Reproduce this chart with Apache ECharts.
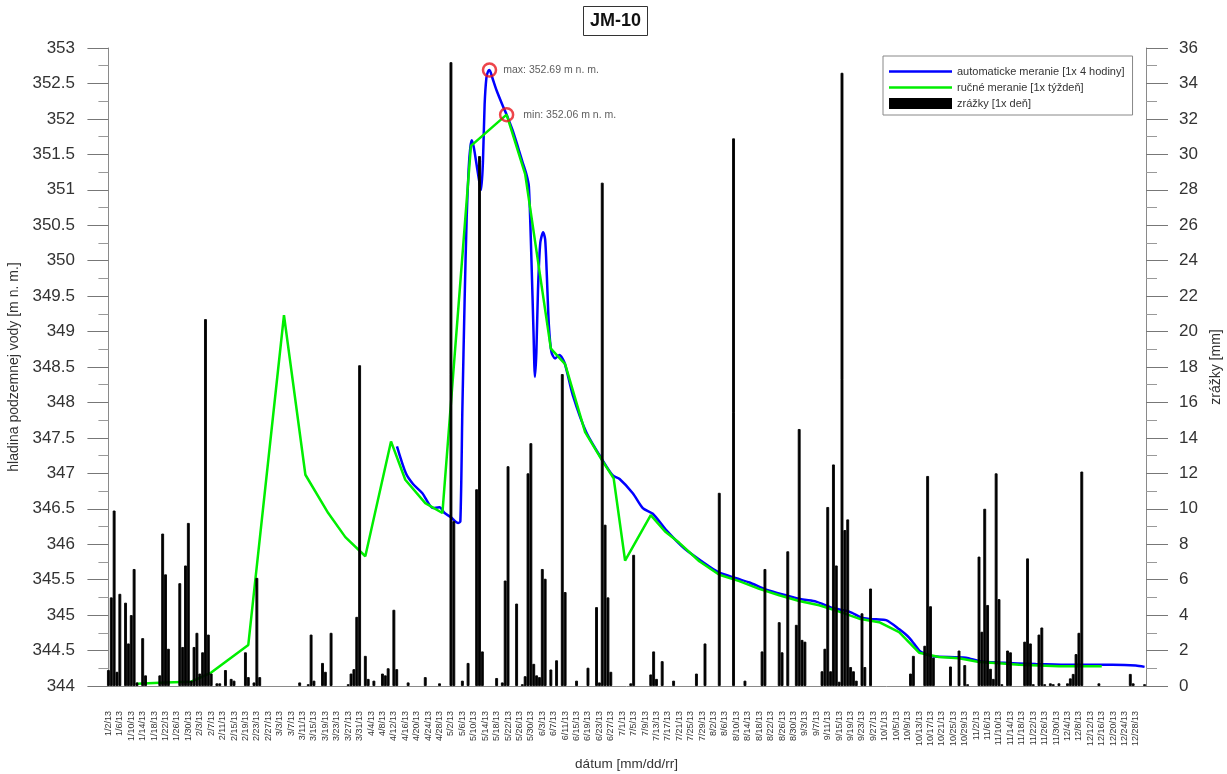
<!DOCTYPE html>
<html>
<head>
<meta charset="utf-8">
<title>JM-10</title>
<script src="https://cdn.jsdelivr.net/npm/echarts@6/dist/echarts.min.js"></script>
<style>
html, body { margin: 0; padding: 0; background: #fff; }
#chart { width: 1227px; height: 774px; }
</style>
</head>
<body>
<div id="chart"></div>
<script>
var year = '13';
var monthStart = [0, 31, 59, 90, 120, 151, 181, 212, 243, 273, 304, 334];
var firstDay = 2; // os zacina 2. januara

// zrazky [mm] - iba dni s nenulovou hodnotou
var rainDays = [
    '1/2','1/3','1/4','1/5','1/6','1/8','1/9','1/10','1/11','1/12','1/14','1/15','1/20','1/21','1/22','1/23','1/27','1/28','1/29','1/30','1/31',
    '2/1','2/2','2/3','2/4','2/5','2/6','2/7','2/9','2/10','2/12','2/14','2/15','2/19','2/20','2/22','2/23','2/24',
    '3/10','3/13','3/14','3/15','3/18','3/19','3/21','3/27','3/28','3/29','3/30','3/31',
    '4/2','4/3','4/5','4/8','4/9','4/10','4/12','4/13','4/17','4/23','4/28',
    '5/2','5/3','5/6','5/8','5/11','5/12','5/13','5/18','5/20','5/21','5/22','5/25','5/27','5/28','5/29','5/30','5/31',
    '6/1','6/2','6/3','6/4','6/6','6/8','6/10','6/11','6/15','6/19','6/22','6/23','6/24','6/25','6/26','6/27',
    '7/4','7/5','7/11','7/12','7/13','7/15','7/19','7/27','7/30',
    '8/4','8/9','8/13','8/19','8/20','8/25','8/26','8/28','8/31',
    '9/1','9/2','9/3','9/9','9/10','9/11','9/12','9/13','9/14','9/15','9/16','9/17','9/18','9/19','9/20','9/21','9/23','9/24','9/26',
    '10/10','10/11','10/15','10/16','10/17','10/18','10/24','10/27','10/29','10/30',
    '11/3','11/4','11/5','11/6','11/7','11/8','11/9','11/10','11/11','11/13','11/14','11/19','11/20','11/21','11/22','11/24','11/25','11/26','11/28','11/29',
    '12/1','12/4','12/5','12/6','12/7','12/8','12/9','12/15','12/26','12/27','12/31'
];
var rainMm = [
    0.9,5.0,9.9,0.8,5.2,4.7,2.4,4.0,6.6,0.2,2.7,0.6,0.6,8.6,6.3,2.1,5.8,2.2,6.8,9.2,0.3,
    2.2,3.0,0.7,1.9,20.7,2.9,0.7,0.15,0.15,0.9,0.4,0.3,1.9,0.5,0.2,6.1,0.5,
    0.2,0.1,2.9,0.3,1.3,0.8,3.0,0.1,0.7,0.95,3.9,18.1,
    1.7,0.4,0.3,0.7,0.6,1.0,4.3,0.95,0.2,0.5,0.15,
    35.2,9.3,0.3,1.3,11.1,29.9,1.95,0.45,0.2,5.95,12.4,4.65,0.1,0.55,12.0,13.7,1.25,
    0.6,0.5,6.6,6.05,0.93,1.45,17.6,5.3,0.3,1.03,4.45,0.2,28.4,9.1,5.0,0.8,
    0.15,7.4,0.65,1.95,0.4,1.4,0.3,0.7,2.4,
    10.9,30.9,0.3,1.95,6.6,3.6,1.9,7.6,3.45,
    14.5,2.6,2.5,0.83,2.1,10.1,0.83,12.5,6.8,0.24,34.6,8.8,9.4,1.07,0.83,0.3,4.1,1.07,5.5,
    0.7,1.7,2.27,11.85,4.5,1.6,1.1,2.0,1.18,0.1,
    7.3,3.06,10.0,4.57,0.97,0.4,12.0,4.9,0.1,2.0,1.9,2.5,7.2,2.4,0.1,2.9,3.3,0.1,0.15,0.1,
    0.15,0.15,0.43,0.68,1.8,3.0,12.1,0.15,0.68,0.15,0.1
];

// rucne meranie [1x tyzden]
var manualDays = [
    '1/12','1/22','1/31','2/7','2/20','3/4 12:00','3/12','3/20','3/26','4/2','4/11','4/16','4/23','4/29',
    '5/9','5/21 12:00','5/28','6/6','6/11','6/18','6/24','6/28','7/2','7/11','7/16','7/21','7/28',
    '8/4','8/11','8/18','8/25','9/1','9/8','9/15','9/22','9/29','10/6','10/13','10/20','10/27',
    '11/3','11/10','11/17','11/24','12/1','12/8','12/16'
];
var manualLevel = [
    344.03,344.05,344.06,344.19,344.58,349.23,346.98,346.44,346.10,345.83,347.45,346.91,346.58,346.44,
    351.62,352.06,351.22,348.76,348.54,347.58,347.18,346.93,345.77,346.41,346.18,346.02,345.76,
    345.57,345.48,345.37,345.28,345.20,345.14,345.05,344.95,344.90,344.76,344.47,344.41,344.39,
    344.34,344.32,344.30,344.29,344.28,344.28,344.28
];

// automaticke meranie [1x 4 hodiny]
var autoTimes = [
    '4/13 02:00','4/16 05:00','4/18 17:00','4/22','4/25 17:00','4/28','4/29 19:00','5/2','5/4 12:00','5/5 07:00',
    '5/6','5/6 19:00','5/7 12:00','5/8 05:00','5/8 19:00','5/9 07:00','5/10','5/11','5/12','5/12 14:00',
    '5/13 05:00','5/13 19:00','5/14 10:00','5/15','5/15 12:00','5/16 12:00','5/18','5/20','5/21 12:00','5/23 12:00',
    '5/25 12:00','5/27','5/28 10:00','5/29 07:00','5/30 05:00','5/30 22:00','5/31 10:00','5/31 22:00','6/1 12:00','6/2 07:00',
    '6/3 07:00','6/4','6/4 14:00','6/5 07:00','6/6 05:00','6/7 12:00','6/9','6/10 19:00','6/13 17:00','6/18 10:00',
    '6/24 05:00','6/27 17:00','6/30 02:00','7/4 17:00','7/8 05:00','7/11 17:00','7/16 10:00','7/22 19:00','7/29 05:00','8/3 12:00',
    '8/9 22:00','8/14 14:00','8/20 10:00','8/27 10:00','9/2 05:00','9/6 22:00','9/12 17:00','9/18 12:00','9/23 05:00','9/27 22:00',
    '10/1 10:00','10/6 02:00','10/9 14:00','10/13 02:00','10/14 19:00','10/17 17:00','10/29 10:00','11/3 02:00','11/10 02:00','11/22 22:00',
    '12/3 10:00','12/19 17:00','12/27 22:00','12/31'
];
var autoLevel = [
    347.38,347.00,346.85,346.72,346.51,346.52,346.44,346.38,346.30,346.32,
    347.90,349.45,350.60,351.30,351.60,351.70,351.60,351.35,351.10,351.00,
    351.40,352.20,352.58,352.67,352.69,352.58,352.40,352.20,352.06,351.85,
    351.60,351.40,351.22,351.05,350.00,349.00,348.36,348.70,349.60,350.25,
    350.40,350.30,349.80,349.10,348.71,348.62,348.67,348.56,348.10,347.58,
    347.18,346.97,346.92,346.72,346.51,346.43,346.20,345.94,345.75,345.61,
    345.52,345.46,345.36,345.28,345.22,345.19,345.10,345.05,344.96,344.94,
    344.93,344.80,344.68,344.50,344.46,344.42,344.40,344.35,344.33,344.31,
    344.30,344.30,344.29,344.27
];

var extremeTimes = ['5/15 12:00', '5/21 12:00'];
var extremeLevel = [352.69, 352.06];
var extremeText = ['max: 352.69 m n. m.', 'min: 352.06 m n. m.'];

var autoName = 'automaticke meranie [1x 4 hodiny]';
var manualName = 'ručné meranie [1x týždeň]';
var rainName = 'zrážky [1x deň]';

function toIndex(s) {
    var parts = s.split(' ');
    var md = parts[0].split('/');
    var doy = monthStart[+md[0] - 1] + (+md[1]);
    var hour = parts[1] ? parseInt(parts[1], 10) : 0;
    return doy - firstDay + hour / 24;
}

var categories = [];
for (var m = 0; m < 12; m++) {
    var len = (m < 11 ? monthStart[m + 1] : 365) - monthStart[m];
    for (var d = 1; d <= len; d++) {
        if (m === 0 && d < firstDay) continue;
        categories.push((m + 1) + '/' + d + '/' + year);
    }
}

var rainData = categories.map(function () { return '-'; });
rainDays.forEach(function (day, i) {
    rainData[Math.round(toIndex(day))] = rainMm[i];
});
var manualData = manualDays.map(function (day, i) { return [toIndex(day), manualLevel[i]]; });
var autoData = autoTimes.map(function (t, i) { return [toIndex(t), autoLevel[i]]; });
var extremeData = extremeTimes.map(function (t, i) {
    return {
        value: [toIndex(t), extremeLevel[i]],
        label: { formatter: extremeText[i], distance: i === 0 ? 6 : 9 }
    };
});

var dom = document.getElementById('chart');
var myChart = echarts.init(dom);
var font = '"Liberation Sans", Arial, sans-serif';
var axisGrey = '#8a8a8a';

var option = {
    animation: false,
    textStyle: { fontFamily: font, color: '#333' },
    title: {
        text: 'JM-10',
        left: 583,
        top: 6,
        padding: [6, 7, 6, 7],
        borderColor: '#333',
        borderWidth: 1,
        textStyle: { fontSize: 18, fontWeight: 'bold', color: '#111', fontFamily: font }
    },
    legend: {
        orient: 'vertical',
        left: 883,
        top: 56,
        padding: [10, 8, 6, 6],
        itemGap: 5,
        itemWidth: 63,
        itemHeight: 11,
        selectedMode: false,
        borderColor: '#888',
        borderWidth: 1,
        backgroundColor: '#fff',
        textStyle: { fontSize: 11, color: '#333', fontFamily: font },
        data: [
            { name: autoName, icon: 'path://M0,0h63v2.4h-63z', itemStyle: { color: '#0000ff' } },
            { name: manualName, icon: 'path://M0,0h63v2.4h-63z', itemStyle: { color: '#00ee00' } },
            { name: rainName, icon: 'rect', itemStyle: { color: '#000', borderWidth: 0 } }
        ]
    },
    grid: { left: 107, right: 81, top: 48, bottom: 88, outerBoundsMode: 'none', containLabel: false },
    xAxis: [
        {
            type: 'category',
            data: categories,
            boundaryGap: true,
            name: 'dátum [mm/dd/rr]',
            nameLocation: 'middle',
            nameGap: 71,
            nameTextStyle: { fontSize: 13.5, color: '#333' },
            axisLine: { lineStyle: { color: axisGrey } },
            axisTick: {
                alignWithLabel: true,
                length: 10,
                interval: function (i) { return i % 2 === 0; },
                lineStyle: { color: '#999' }
            },
            axisLabel: { interval: 3, rotate: 90, fontSize: 9, margin: 25, color: '#333' },
            splitLine: { show: false }
        },
        {
            type: 'value',
            min: -0.5,
            max: categories.length - 0.5,
            show: false
        },
        {
            type: 'category',
            data: categories,
            boundaryGap: true,
            position: 'bottom',
            axisLine: { show: false },
            axisTick: {
                alignWithLabel: true,
                length: 21,
                interval: function (i) { return i % 4 === 0; },
                lineStyle: { color: '#999' }
            },
            axisLabel: { show: false },
            splitLine: { show: false }
        }
    ],
    yAxis: [
        {
            type: 'value',
            min: 344,
            max: 353,
            interval: 0.5,
            position: 'left',
            name: 'hladina podzemnej vody [m n. m.]',
            nameLocation: 'middle',
            nameRotate: 90,
            nameGap: 83,
            nameTextStyle: { fontSize: 14, color: '#333' },
            axisLine: { show: true, lineStyle: { color: axisGrey } },
            axisTick: { show: true, length: 21, lineStyle: { color: '#777' } },
            minorTick: { show: true, splitNumber: 2, length: 10, lineStyle: { color: '#999' } },
            axisLabel: { fontSize: 17, margin: 32, color: '#333' },
            splitLine: { show: false }
        },
        {
            type: 'value',
            min: 0,
            max: 36,
            interval: 2,
            position: 'right',
            name: 'zrážky [mm]',
            nameLocation: 'middle',
            nameRotate: 90,
            nameGap: 62,
            nameTextStyle: { fontSize: 14, color: '#333' },
            axisLine: { show: true, lineStyle: { color: axisGrey } },
            axisTick: { show: true, length: 22, lineStyle: { color: '#777' } },
            minorTick: { show: true, splitNumber: 2, length: 11, lineStyle: { color: '#999' } },
            axisLabel: { fontSize: 17, margin: 33, color: '#333' },
            splitLine: { show: false }
        }
    ],
    series: [
        {
            name: autoName,
            type: 'line',
            xAxisIndex: 1,
            yAxisIndex: 0,
            data: autoData,
            symbol: 'none',
            smooth: 0.25,
            lineStyle: { color: '#0000ff', width: 2.5 },
            itemStyle: { color: '#0000ff' },
            z: 2
        },
        {
            name: manualName,
            type: 'line',
            xAxisIndex: 1,
            yAxisIndex: 0,
            data: manualData,
            symbol: 'none',
            lineStyle: { color: '#00ee00', width: 2.5 },
            itemStyle: { color: '#00ee00' },
            z: 3
        },
        {
            name: rainName,
            type: 'bar',
            xAxisIndex: 0,
            yAxisIndex: 1,
            data: rainData,
            barWidth: '100%',
            itemStyle: { color: '#000', borderColor: '#000', borderWidth: 0.9 },
            z: 4
        },
        {
            type: 'scatter',
            xAxisIndex: 1,
            yAxisIndex: 0,
            data: extremeData,
            symbol: 'circle',
            symbolSize: 13,
            itemStyle: { color: 'rgba(255,255,255,0)', borderColor: '#e8161e', borderWidth: 2.5 },
            label: { show: true, position: 'right', fontSize: 10.5, color: '#333', fontFamily: font },
            z: 5
        }
    ]
};

if (option && typeof option === "object") {
    myChart.setOption(option, true);
}
</script>
</body>
</html>
